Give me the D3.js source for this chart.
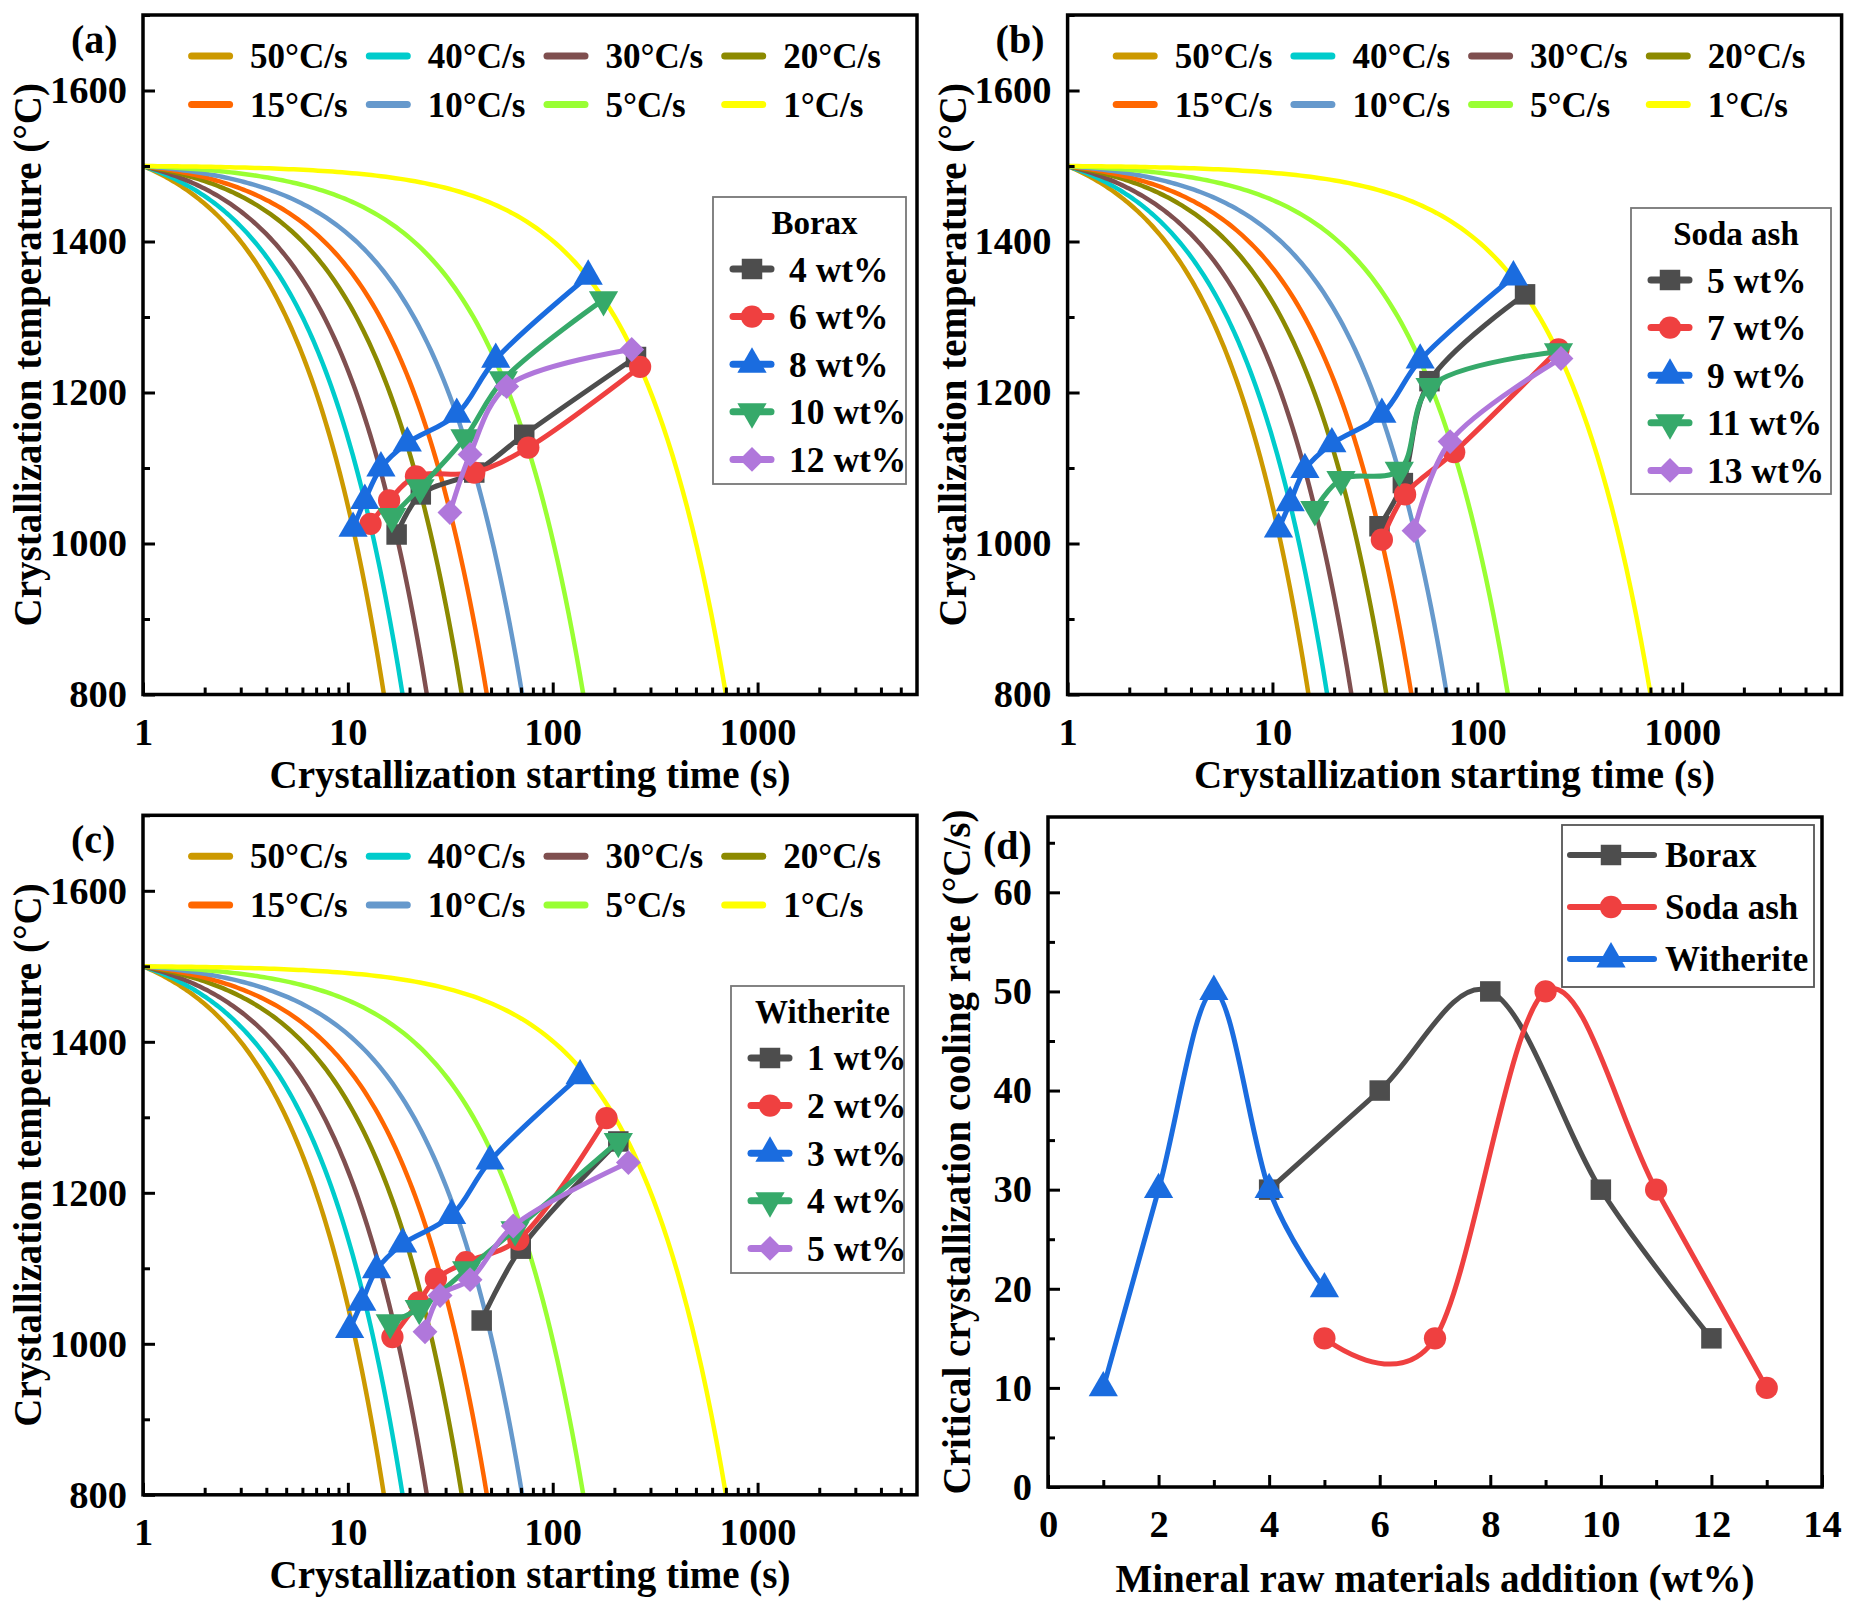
<!DOCTYPE html>
<html>
<head>
<meta charset="utf-8">
<script src="https://cdn.jsdelivr.net/npm/d3@7"></script>
<style>
    body { margin: 0; background: #fff; }
    text { font-family: "Liberation Serif", "Times New Roman", serif; font-weight: bold; fill: #000; }
</style>
</head>
<body>
<svg id="fig"></svg>
<script>
// Cooling-rate lines: each starts at 1 s / 1500 °C and ends where it crosses 800 °C
let coolLabels = ["50°C/s", "40°C/s", "30°C/s", "20°C/s", "15°C/s", "10°C/s", "5°C/s", "1°C/s"];
let coolStart = [1, 1500];
let coolEndTime = [15, 18.5, 24.3, 36, 47.7, 71, 141, 701];
let coolEndTemp = 800;
let coolColors = ["#cc9900", "#00cccc", "#7f4f4f", "#8c8a00", "#ff6600", "#6699cc", "#99ff33", "#ffff00"];

// (a) Borax
let boraxLabels = ["4 wt%", "6 wt%", "8 wt%", "10 wt%", "12 wt%"];
let boraxTime = [
    [17.3, 22.7, 41.4, 72.6, 255],
    [12.9, 15.9, 21.5, 41.4, 76, 267],
    [10.6, 12.1, 14.5, 19.5, 34.0, 52.7, 149],
    [16.4, 22.5, 37.3, 57.4, 177],
    [31.5, 39.5, 59.6, 243],
];
let boraxTemp = [
    [1012, 1065, 1094, 1144, 1247],
    [1026, 1057, 1089, 1094, 1127, 1234],
    [1020, 1057, 1100, 1133, 1171, 1244, 1354],
    [1036, 1074, 1140, 1217, 1323],
    [1041, 1118, 1208, 1257],
];

// (b) Soda ash
let sodaLabels = ["5 wt%", "7 wt%", "9 wt%", "11 wt%", "13 wt%"];
let sodaTime = [
    [33.3, 43.3, 58.4, 171],
    [34.2, 44.4, 77.1, 249],
    [10.7, 12.2, 14.4, 19.5, 34.2, 52.6, 150],
    [16.1, 21.6, 41.6, 58.8, 249],
    [49.1, 73.6, 256],
];
let sodaTemp = [
    [1023, 1080, 1215, 1330],
    [1005, 1065, 1121, 1257],
    [1019, 1054, 1098, 1132, 1171, 1243, 1353],
    [1045, 1085, 1097, 1208, 1254],
    [1017, 1135, 1245],
];

// (c) Witherite
let witherLabels = ["1 wt%", "2 wt%", "3 wt%", "4 wt%", "5 wt%"];
let witherTime = [
    [45.0, 69.8, 209],
    [16.5, 22.1, 26.9, 37.7, 67.9, 183],
    [10.2, 11.7, 13.8, 18.5, 32.1, 49.4, 136],
    [16.1, 22.3, 38.0, 65.5, 209],
    [23.8, 28.2, 39.5, 64.2, 234],
];
let witherTemp = [
    [1031, 1126, 1268],
    [1009, 1055, 1086, 1108, 1138, 1299],
    [1019, 1055, 1098, 1132, 1170, 1242, 1355],
    [1028, 1047, 1098, 1151, 1268],
    [1016, 1064, 1085, 1156, 1240],
];

// (d) critical cooling rate vs addition
let rateLabels = ["Borax", "Soda ash", "Witherite"];
let additionBorax = [4, 6, 8, 10, 12];
let rateBorax = [30, 40, 50, 30, 15];
let additionSoda = [5, 7, 9, 11, 13];
let rateSoda = [15, 15, 50, 30, 10];
let additionWither = [1, 2, 3, 4, 5];
let rateWither = [10, 30, 50, 30, 20];

let seriesColors = ["#4d4d4d", "#ef4040", "#1a6cdf", "#36a96a", "#b077db"];
let rateColors = ["#4d4d4d", "#ef4040", "#1a6cdf"];

// marker shapes
let markers = [
    { type: d3.symbolSquare, size: 420, rotate: 0 },
    { type: d3.symbolCircle, size: 390, rotate: 0 },
    { type: d3.symbolTriangle, size: 370, rotate: 0 },
    { type: d3.symbolTriangle, size: 370, rotate: 180 },
    { type: d3.symbolSquare, size: 310, rotate: 45 },
];

let W = 1856, H = 1615;
let svg = d3.select("#fig").attr("width", W).attr("height", H);

let tickFont = 38.5;
let titleFont = 39;
let legendFont = 35;

function marker(sel, m, cx, cy, color) {
    sel.append("path")
        .attr("d", d3.symbol().type(m.type).size(m.size)())
        .attr("transform", `translate(${cx},${cy}) rotate(${m.rotate})`)
        .attr("fill", color);
}

function styleAxis(g) {
    g.select(".domain").remove();
    g.selectAll(".tick line").attr("stroke", "#000").attr("stroke-width", 3);
    g.selectAll(".tick text")
        .attr("font-size", tickFont)
        .attr("font-family", '"Liberation Serif", serif')
        .attr("font-weight", "bold")
        .attr("fill", "#000");
}

// panels (a)-(c): cooling curves with crystallization start points
let cctPanels = [
    { label: "(a)", dx: 0, dy: 0, title: "Borax", names: boraxLabels, time: boraxTime, temp: boraxTemp, box: [713, 197, 193, 287] },
    { label: "(b)", dx: 924.6, dy: 0, title: "Soda ash", names: sodaLabels, time: sodaTime, temp: sodaTemp, box: [1631 - 924.6, 208, 200, 286] },
    { label: "(c)", dx: 0, dy: 800.3, title: "Witherite", names: witherLabels, time: witherTime, temp: witherTemp, box: [731, 986 - 800.3, 173, 287] },
];

function drawCCT(p, idx) {
    let left = 143, right = 917, top = 15, bottom = 694.5;
    let g = svg.append("g").attr("transform", `translate(${p.dx},${p.dy})`);

    let x = d3.scaleLog().domain([1, 6000]).range([left, right]);
    let y = d3.scaleLinear().domain([800, 1700]).range([bottom, top]);

    let clipId = "clip" + idx;
    g.append("clipPath").attr("id", clipId)
        .append("rect")
        .attr("x", left).attr("y", top)
        .attr("width", right - left).attr("height", bottom - top);

    let plot = g.append("g").attr("clip-path", `url(#${clipId})`);

    // each cooling line is straight in (t, T); resample it in log time so it bends on the log axis
    coolEndTime.forEach((tEnd, i) => {
        let lt0 = Math.log10(coolStart[0]), lt1 = Math.log10(tEnd);
        let pts = d3.range(0, 121).map((k) => {
            let t = Math.pow(10, lt0 + (lt1 - lt0) * k / 120);
            let T = coolStart[1] + (coolEndTemp - coolStart[1]) * (t - coolStart[0]) / (tEnd - coolStart[0]);
            return [x(t), y(T)];
        });
        plot.append("path")
            .attr("d", d3.line()(pts))
            .attr("fill", "none")
            .attr("stroke", coolColors[i])
            .attr("stroke-width", 4.5);
    });

    // crystallization start series
    p.time.forEach((ts, k) => {
        let pts = ts.map((t, j) => [x(t), y(p.temp[k][j])]);
        plot.append("path")
            .attr("d", d3.line().curve(d3.curveCatmullRom)(pts))
            .attr("fill", "none")
            .attr("stroke", seriesColors[k])
            .attr("stroke-width", 5);
        pts.forEach((pt) => marker(plot, markers[k], pt[0], pt[1], seriesColors[k]));
    });

    // axes with inward ticks
    let majors = [1, 10, 100, 1000];
    let minors = d3.range(0, 4)
        .flatMap((e) => d3.range(2, 10).map((m) => m * Math.pow(10, e)))
        .filter((v) => v < 6000);

    g.append("g").attr("transform", `translate(0,${bottom})`)
        .call(d3.axisBottom(x).tickValues(majors).tickFormat(d3.format("d")).tickSize(-12).tickPadding(23))
        .call(styleAxis);
    g.append("g").attr("transform", `translate(0,${bottom})`)
        .call(d3.axisBottom(x).tickValues(minors).tickFormat("").tickSize(-7))
        .call(styleAxis);

    g.append("g").attr("transform", `translate(${left},0)`)
        .call(d3.axisLeft(y).tickValues(d3.range(800, 1601, 200)).tickFormat(d3.format("d")).tickSize(-12).tickPadding(16))
        .call(styleAxis);
    g.append("g").attr("transform", `translate(${left},0)`)
        .call(d3.axisLeft(y).tickValues(d3.range(900, 1701, 200)).tickFormat("").tickSize(-7))
        .call(styleAxis);

    g.append("rect")
        .attr("x", left).attr("y", top)
        .attr("width", right - left).attr("height", bottom - top)
        .attr("fill", "none").attr("stroke", "#000").attr("stroke-width", 3.5);

    // axis titles
    g.append("text")
        .attr("transform", `translate(41,${(top + bottom) / 2}) rotate(-90)`)
        .attr("text-anchor", "middle")
        .attr("font-size", titleFont)
        .text("Crystallization temperature (°C)");
    g.append("text")
        .attr("x", (left + right) / 2).attr("y", 788)
        .attr("text-anchor", "middle")
        .attr("font-size", titleFont)
        .text("Crystallization starting time (s)");

    g.append("text")
        .attr("x", 71).attr("y", 53)
        .attr("font-size", 40)
        .text(p.label);

    // cooling-rate legend, two rows of four
    coolLabels.forEach((lab, i) => {
        let col = i % 4, row = Math.floor(i / 4);
        let x0 = 188.6 + col * 177.7;
        let y0 = 56 + row * 48.6;
        g.append("line")
            .attr("x1", x0 + 3).attr("x2", x0 + 41)
            .attr("y1", y0).attr("y2", y0)
            .attr("stroke", coolColors[i])
            .attr("stroke-width", 7)
            .attr("stroke-linecap", "round");
        g.append("text")
            .attr("x", x0 + 61.5).attr("y", y0 + 12)
            .attr("font-size", legendFont)
            .text(lab);
    });

    // series legend box
    let [bx, by, bw, bh] = p.box;
    let lg = g.append("g");
    lg.append("rect")
        .attr("x", bx).attr("y", by).attr("width", bw).attr("height", bh)
        .attr("fill", "#fff").attr("stroke", "#777").attr("stroke-width", 1.8);
    lg.append("text")
        .attr("x", bx + bw / 2 + 5).attr("y", by + 37)
        .attr("text-anchor", "middle")
        .attr("font-size", 33)
        .text(p.title);
    p.names.forEach((name, k) => {
        let ry = by + 72 + k * 47.6;
        lg.append("line")
            .attr("x1", bx + 20).attr("x2", bx + 58)
            .attr("y1", ry).attr("y2", ry)
            .attr("stroke", seriesColors[k])
            .attr("stroke-width", 7)
            .attr("stroke-linecap", "round");
        marker(lg, markers[k], bx + 39, ry, seriesColors[k]);
        lg.append("text")
            .attr("x", bx + 76).attr("y", ry + 12.5)
            .attr("font-size", 35.5)
            .text(name);
    });
}

cctPanels.forEach(drawCCT);

// panel (d)
function drawRate() {
    let left = 1048, right = 1822, top = 817, bottom = 1487;
    let g = svg.append("g");

    let x = d3.scaleLinear().domain([0, 14]).range([left, right]);
    let y = d3.scaleLinear().domain([0, 67.6]).range([bottom, top]);

    let groups = [
        { xs: additionBorax, ys: rateBorax },
        { xs: additionSoda, ys: rateSoda },
        { xs: additionWither, ys: rateWither },
    ];

    groups.forEach((s, k) => {
        let pts = s.xs.map((v, j) => [x(v), y(s.ys[j])]);
        g.append("path")
            .attr("d", d3.line().curve(d3.curveCatmullRom.alpha(0))(pts))
            .attr("fill", "none")
            .attr("stroke", rateColors[k])
            .attr("stroke-width", 5);
        pts.forEach((pt) => marker(g, markers[k], pt[0], pt[1], rateColors[k]));
    });

    g.append("g").attr("transform", `translate(0,${bottom})`)
        .call(d3.axisBottom(x).tickValues(d3.range(0, 15, 2)).tickSize(-12).tickPadding(22.5))
        .call(styleAxis);
    g.append("g").attr("transform", `translate(0,${bottom})`)
        .call(d3.axisBottom(x).tickValues(d3.range(1, 14, 2)).tickFormat("").tickSize(-7))
        .call(styleAxis);
    g.append("g").attr("transform", `translate(${left},0)`)
        .call(d3.axisLeft(y).tickValues(d3.range(0, 61, 10)).tickSize(-12).tickPadding(16))
        .call(styleAxis);
    g.append("g").attr("transform", `translate(${left},0)`)
        .call(d3.axisLeft(y).tickValues(d3.range(5, 66, 10)).tickFormat("").tickSize(-7))
        .call(styleAxis);

    g.append("rect")
        .attr("x", left).attr("y", top)
        .attr("width", right - left).attr("height", bottom - top)
        .attr("fill", "none").attr("stroke", "#000").attr("stroke-width", 3.5);

    g.append("text")
        .attr("transform", `translate(970,${(top + bottom) / 2}) rotate(-90)`)
        .attr("text-anchor", "middle")
        .attr("font-size", titleFont)
        .text("Critical crystallization cooling rate (°C/s)");
    g.append("text")
        .attr("x", (left + right) / 2).attr("y", 1592)
        .attr("text-anchor", "middle")
        .attr("font-size", titleFont)
        .text("Mineral raw materials addition (wt%)");

    g.append("text")
        .attr("x", 983).attr("y", 859)
        .attr("font-size", 40)
        .text("(d)");

    // legend
    let bx = 1562, by = 825, bw = 252, bh = 162;
    g.append("rect")
        .attr("x", bx).attr("y", by).attr("width", bw).attr("height", bh)
        .attr("fill", "#fff").attr("stroke", "#555").attr("stroke-width", 1.8);
    rateLabels.forEach((name, k) => {
        let ry = by + 30 + k * 52;
        g.append("line")
            .attr("x1", bx + 8).attr("x2", bx + 92)
            .attr("y1", ry).attr("y2", ry)
            .attr("stroke", rateColors[k])
            .attr("stroke-width", 6)
            .attr("stroke-linecap", "round");
        marker(g, markers[k], bx + 49, ry, rateColors[k]);
        g.append("text")
            .attr("x", bx + 103).attr("y", ry + 12)
            .attr("font-size", legendFont)
            .text(name);
    });
}

drawRate();
</script>
</body>
</html>
